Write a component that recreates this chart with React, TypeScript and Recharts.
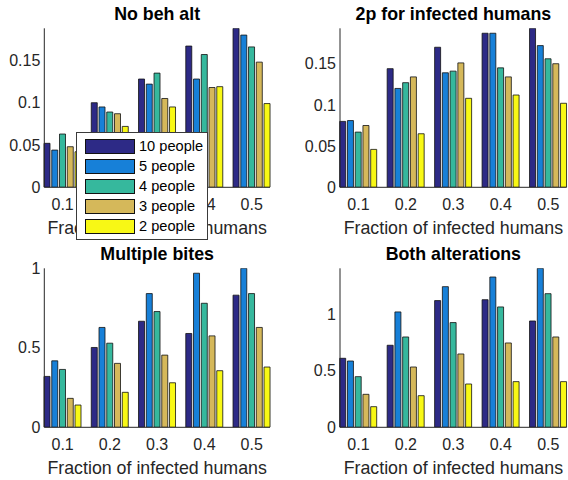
import React from 'react';
import { BarChart, Bar, XAxis, YAxis } from 'recharts';

const FONT = '"Liberation Sans", Arial, Helvetica, sans-serif';
const AXIS_COLOR = '#262626';

const categories = ['0.1', '0.2', '0.3', '0.4', '0.5'];
const seriesNames = ['10 people', '5 people', '4 people', '3 people', '2 people'];
const seriesColors = ['#2D2A86', '#1780D8', '#36B89D', '#D5B85A', '#F8F815'];
const xLabel = 'Fraction of infected humans';

// Panel 1: No beh alt
const noBeh10 = [0.052, 0.1, 0.128, 0.167, 0.188];
const noBeh5 = [0.044, 0.095, 0.122, 0.128, 0.18];
const noBeh4 = [0.063, 0.089, 0.135, 0.157, 0.166];
const noBeh3 = [0.048, 0.087, 0.105, 0.118, 0.148];
const noBeh2 = [0.042, 0.072, 0.095, 0.119, 0.099];
const smallTicks = [0, 0.05, 0.1, 0.15];

// Panel 2: 2p for infected humans
const twoP10 = [0.08, 0.144, 0.17, 0.187, 0.193];
const twoP5 = [0.081, 0.12, 0.139, 0.187, 0.172];
const twoP4 = [0.067, 0.127, 0.141, 0.145, 0.156];
const twoP3 = [0.075, 0.134, 0.151, 0.134, 0.15];
const twoP2 = [0.046, 0.065, 0.108, 0.112, 0.102];

// Panel 3: Multiple bites
const multi10 = [0.32, 0.502, 0.667, 0.59, 0.831];
const multi5 = [0.418, 0.628, 0.841, 0.969, 1.0];
const multi4 = [0.364, 0.529, 0.728, 0.78, 0.841];
const multi3 = [0.182, 0.402, 0.454, 0.575, 0.628];
const multi2 = [0.14, 0.22, 0.28, 0.356, 0.379];
const unitTicks = [0, 0.5, 1];

// Panel 4: Both alterations
const both10 = [0.609, 0.724, 1.118, 1.126, 0.938];
const both5 = [0.585, 1.018, 1.241, 1.326, 1.403];
const both4 = [0.447, 0.797, 0.924, 1.062, 1.179];
const both3 = [0.291, 0.532, 0.647, 0.744, 0.797];
const both2 = [0.182, 0.279, 0.382, 0.403, 0.403];

type PanelProps = {
  left: number;
  top: number;
  title: string;
  series: number[][];
  ticks: number[];
  yWidth: number;
  marginRight: number;
};

const CHART_W = 284;
const CHART_H = 240;
const PLOT_TOP = 28.3;
const X_AXIS_H = 52.7;

function Panel({ left, top, title, series, ticks, yWidth, marginRight }: PanelProps) {
  const rows = categories.map((c, i) => {
    const row: Record<string, number | string> = { cat: c };
    series.forEach((s, k) => {
      row[`s${k}`] = s[i];
    });
    return row;
  });
  const yMax = Math.max(...series.flat());
  const plotLeft = yWidth;
  const plotWidth = CHART_W - yWidth - marginRight;
  const pad = { left: -5.3, right: -5.3 };
  return (
    <>
      <div style={{ position: 'absolute', left, top, width: CHART_W, height: CHART_H }}>
        <BarChart
          width={CHART_W}
          height={CHART_H}
          data={rows}
          margin={{ top: PLOT_TOP, right: marginRight, left: 0, bottom: 0 }}
          barSize={6}
          barGap={1.75}
          barCategoryGap={0}
        >
          <XAxis
            xAxisId="main"
            dataKey="cat"
            padding={pad}
            height={X_AXIS_H}
            interval={0}
            tickLine={false}
            tickSize={0}
            tickMargin={11}
            axisLine={{ stroke: AXIS_COLOR }}
            tick={{ fill: AXIS_COLOR, fontSize: 16, fontFamily: FONT }}
            label={{
              value: xLabel,
              position: 'insideBottom',
              offset: 5.7,
              fill: AXIS_COLOR,
              fontSize: 17.8,
              fontFamily: FONT,
            }}
          />
          <XAxis
            xAxisId="bottomIn"
            dataKey="cat"
            orientation="bottom"
            mirror
            padding={pad}
            height={0}
            interval={0}
            tick={false}
            tickSize={3}
            axisLine={false}
            tickLine={{ stroke: AXIS_COLOR }}
          />
          <XAxis
            xAxisId="topIn"
            dataKey="cat"
            orientation="top"
            mirror
            padding={pad}
            height={0}
            interval={0}
            tick={false}
            tickSize={3}
            axisLine={{ stroke: AXIS_COLOR }}
            tickLine={{ stroke: AXIS_COLOR }}
          />
          <YAxis
            yAxisId="main"
            type="number"
            width={yWidth}
            domain={[0, yMax]}
            ticks={ticks}
            allowDataOverflow
            tickLine={false}
            tickSize={0}
            tickMargin={4}
            axisLine={{ stroke: AXIS_COLOR }}
            tick={{ fill: AXIS_COLOR, fontSize: 16, fontFamily: FONT }}
          />
          <YAxis
            yAxisId="leftIn"
            type="number"
            mirror
            width={0}
            domain={[0, yMax]}
            ticks={ticks}
            allowDataOverflow
            tick={false}
            tickSize={3}
            axisLine={false}
            tickLine={{ stroke: AXIS_COLOR }}
          />
          <YAxis
            yAxisId="rightIn"
            type="number"
            orientation="right"
            mirror
            width={0}
            domain={[0, yMax]}
            ticks={ticks}
            allowDataOverflow
            tick={false}
            tickSize={3}
            axisLine={{ stroke: AXIS_COLOR }}
            tickLine={{ stroke: AXIS_COLOR }}
          />
          {seriesNames.map((n, k) => (
            <Bar
              key={n}
              xAxisId="main"
              yAxisId="main"
              dataKey={`s${k}`}
              name={n}
              fill={seriesColors[k]}
              stroke="#111111"
              strokeWidth={0.8}
              isAnimationActive={false}
            />
          ))}
        </BarChart>
      </div>
      <div
        style={{
          position: 'absolute',
          left: left + plotLeft,
          top: top + 5.6,
          width: plotWidth,
          textAlign: 'center',
          fontFamily: FONT,
          fontWeight: 'bold',
          fontSize: 17.8,
          lineHeight: '17.8px',
          color: '#000',
          whiteSpace: 'nowrap',
        }}
      >
        {title}
      </div>
    </>
  );
}

function LegendBox() {
  return (
    <div
      style={{
        position: 'absolute',
        left: 76,
        top: 131.7,
        width: 131.7,
        height: 108.3,
        boxSizing: 'border-box',
        border: '1px solid #3a3a3a',
        background: '#fff',
        fontFamily: FONT,
      }}
    >
      {seriesNames.map((n, k) => (
        <div key={n}>
          <div
            style={{
              position: 'absolute',
              left: 8,
              top: 6.3 + k * 20,
              width: 50,
              height: 15,
              boxSizing: 'border-box',
              border: '1px solid #111',
              background: seriesColors[k],
            }}
          />
          <div
            style={{
              position: 'absolute',
              left: 62,
              top: 6.3 + k * 20 - 1,
              height: 17,
              lineHeight: '17px',
              fontSize: 14.6,
              color: '#000',
              whiteSpace: 'nowrap',
            }}
          >
            {n}
          </div>
        </div>
      ))}
    </div>
  );
}

export default function App() {
  return (
    <div
      style={{
        position: 'absolute',
        left: 0,
        top: 0,
        width: 568,
        height: 480,
        background: '#fff',
        overflow: 'hidden',
      }}
    >
      <Panel
        left={0}
        top={0}
        title="No beh alt"
        series={[noBeh10, noBeh5, noBeh4, noBeh3, noBeh2]}
        ticks={smallTicks}
        yWidth={44.3}
        marginRight={14}
      />
      <Panel
        left={284}
        top={0}
        title="2p for infected humans"
        series={[twoP10, twoP5, twoP4, twoP3, twoP2]}
        ticks={smallTicks}
        yWidth={56}
        marginRight={1.3}
      />
      <Panel
        left={0}
        top={240}
        title="Multiple bites"
        series={[multi10, multi5, multi4, multi3, multi2]}
        ticks={unitTicks}
        yWidth={44.3}
        marginRight={14}
      />
      <Panel
        left={284}
        top={240}
        title="Both alterations"
        series={[both10, both5, both4, both3, both2]}
        ticks={unitTicks}
        yWidth={56}
        marginRight={1.3}
      />
      <LegendBox />
    </div>
  );
}
